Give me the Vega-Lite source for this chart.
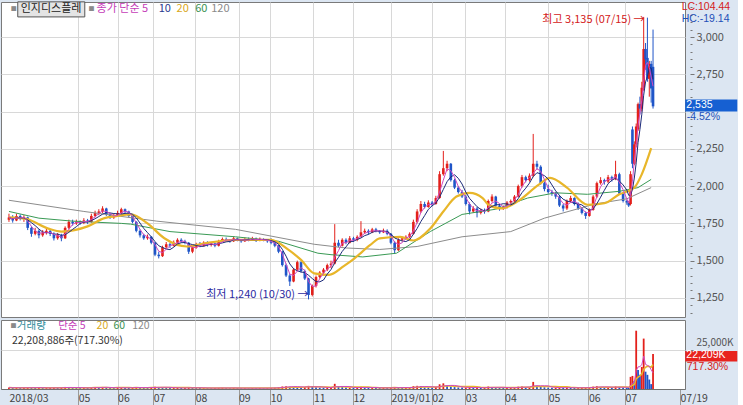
{
"$schema":"https://vega.github.io/schema/vega-lite/v6.json",
"padding":0,
"background":"#dce6f2",
"spacing":1,
"config":{
 "view":{"stroke":"#7a7a7a","fill":"white"},
 "font":"Noto Sans CJK KR",
 "axis":{"labelFont":"Noto Sans CJK KR","labelFontSize":11,"labelColor":"#555555","gridColor":"#d8d8d8","tickColor":"#777777","domain":false,"title":null},
 "text":{"font":"Noto Sans CJK KR","fontSize":11},
 "concat":{"spacing":1}
},
"resolve":{"scale":{"color":"independent"}},
"datasets":{
"candles":[
{"t":0,"o":1775,"h":1815,"l":1760,"c":1790,"v":900},
{"t":2,"o":1790,"h":1805,"l":1755,"c":1770,"v":700},
{"t":4,"o":1770,"h":1815,"l":1765,"c":1800,"v":800},
{"t":6,"o":1800,"h":1810,"l":1770,"c":1785,"v":600},
{"t":8,"o":1785,"h":1805,"l":1760,"c":1790,"v":700},
{"t":10,"o":1790,"h":1795,"l":1705,"c":1720,"v":1100},
{"t":12,"o":1720,"h":1730,"l":1660,"c":1680,"v":1000},
{"t":14,"o":1680,"h":1720,"l":1670,"c":1700,"v":700},
{"t":16,"o":1700,"h":1710,"l":1650,"c":1670,"v":800},
{"t":18,"o":1670,"h":1705,"l":1660,"c":1690,"v":600},
{"t":20,"o":1690,"h":1720,"l":1675,"c":1700,"v":600},
{"t":22,"o":1700,"h":1710,"l":1665,"c":1680,"v":700},
{"t":24,"o":1680,"h":1690,"l":1635,"c":1650,"v":900},
{"t":26,"o":1650,"h":1685,"l":1640,"c":1670,"v":700},
{"t":28,"o":1670,"h":1680,"l":1630,"c":1650,"v":800},
{"t":30,"o":1650,"h":1730,"l":1645,"c":1720,"v":1300},
{"t":32,"o":1720,"h":1775,"l":1710,"c":1760,"v":1200},
{"t":34,"o":1760,"h":1775,"l":1735,"c":1750,"v":800},
{"t":36,"o":1750,"h":1775,"l":1740,"c":1760,"v":700},
{"t":38,"o":1760,"h":1770,"l":1740,"c":1755,"v":600},
{"t":40,"o":1755,"h":1785,"l":1745,"c":1770,"v":700},
{"t":42,"o":1770,"h":1780,"l":1745,"c":1760,"v":600},
{"t":44,"o":1760,"h":1815,"l":1755,"c":1800,"v":1100},
{"t":46,"o":1800,"h":1835,"l":1790,"c":1820,"v":1200},
{"t":48,"o":1820,"h":1845,"l":1805,"c":1830,"v":900},
{"t":50,"o":1830,"h":1865,"l":1820,"c":1850,"v":1300},
{"t":52,"o":1850,"h":1855,"l":1800,"c":1810,"v":900},
{"t":54,"o":1810,"h":1820,"l":1780,"c":1790,"v":700},
{"t":56,"o":1790,"h":1815,"l":1780,"c":1800,"v":600},
{"t":58,"o":1800,"h":1835,"l":1795,"c":1820,"v":800},
{"t":60,"o":1820,"h":1855,"l":1810,"c":1845,"v":1000},
{"t":62,"o":1845,"h":1850,"l":1815,"c":1830,"v":800},
{"t":64,"o":1830,"h":1835,"l":1790,"c":1800,"v":700},
{"t":66,"o":1800,"h":1805,"l":1750,"c":1760,"v":900},
{"t":68,"o":1760,"h":1765,"l":1690,"c":1700,"v":1200},
{"t":70,"o":1700,"h":1710,"l":1655,"c":1670,"v":1000},
{"t":72,"o":1670,"h":1680,"l":1640,"c":1650,"v":800},
{"t":74,"o":1650,"h":1675,"l":1640,"c":1660,"v":700},
{"t":76,"o":1660,"h":1665,"l":1610,"c":1620,"v":900},
{"t":78,"o":1620,"h":1625,"l":1530,"c":1540,"v":1500},
{"t":80,"o":1540,"h":1560,"l":1515,"c":1530,"v":1300},
{"t":82,"o":1530,"h":1600,"l":1525,"c":1590,"v":1100},
{"t":84,"o":1590,"h":1625,"l":1580,"c":1610,"v":800},
{"t":86,"o":1610,"h":1620,"l":1585,"c":1600,"v":600},
{"t":88,"o":1600,"h":1635,"l":1595,"c":1620,"v":700},
{"t":90,"o":1620,"h":1650,"l":1610,"c":1640,"v":800},
{"t":92,"o":1640,"h":1650,"l":1620,"c":1630,"v":600},
{"t":94,"o":1630,"h":1640,"l":1610,"c":1620,"v":600},
{"t":96,"o":1620,"h":1625,"l":1545,"c":1560,"v":1000},
{"t":98,"o":1560,"h":1600,"l":1550,"c":1590,"v":800},
{"t":100,"o":1590,"h":1620,"l":1580,"c":1610,"v":700},
{"t":102,"o":1610,"h":1625,"l":1590,"c":1600,"v":600},
{"t":104,"o":1600,"h":1630,"l":1595,"c":1620,"v":700},
{"t":106,"o":1620,"h":1630,"l":1595,"c":1605,"v":600},
{"t":108,"o":1605,"h":1625,"l":1595,"c":1615,"v":500},
{"t":110,"o":1615,"h":1620,"l":1590,"c":1600,"v":600},
{"t":112,"o":1600,"h":1640,"l":1595,"c":1630,"v":700},
{"t":114,"o":1630,"h":1655,"l":1625,"c":1645,"v":800},
{"t":116,"o":1645,"h":1655,"l":1630,"c":1640,"v":600},
{"t":118,"o":1640,"h":1645,"l":1620,"c":1630,"v":500},
{"t":120,"o":1630,"h":1660,"l":1625,"c":1650,"v":700},
{"t":122,"o":1650,"h":1655,"l":1630,"c":1640,"v":600},
{"t":124,"o":1640,"h":1645,"l":1620,"c":1630,"v":500},
{"t":126,"o":1630,"h":1655,"l":1625,"c":1645,"v":600},
{"t":128,"o":1645,"h":1655,"l":1630,"c":1640,"v":500},
{"t":130,"o":1640,"h":1660,"l":1635,"c":1650,"v":600},
{"t":132,"o":1650,"h":1655,"l":1625,"c":1635,"v":500},
{"t":134,"o":1635,"h":1655,"l":1630,"c":1645,"v":600},
{"t":136,"o":1645,"h":1650,"l":1630,"c":1640,"v":500},
{"t":138,"o":1640,"h":1645,"l":1620,"c":1630,"v":600},
{"t":140,"o":1630,"h":1650,"l":1610,"c":1620,"v":700},
{"t":142,"o":1620,"h":1625,"l":1590,"c":1600,"v":800},
{"t":144,"o":1600,"h":1605,"l":1550,"c":1560,"v":1100},
{"t":146,"o":1560,"h":1565,"l":1460,"c":1470,"v":1600},
{"t":148,"o":1470,"h":1480,"l":1390,"c":1400,"v":1800},
{"t":150,"o":1400,"h":1410,"l":1330,"c":1360,"v":1500},
{"t":152,"o":1360,"h":1450,"l":1355,"c":1440,"v":1400},
{"t":154,"o":1440,"h":1500,"l":1430,"c":1490,"v":1200},
{"t":156,"o":1490,"h":1495,"l":1420,"c":1430,"v":1000},
{"t":158,"o":1430,"h":1440,"l":1370,"c":1380,"v":1300},
{"t":160,"o":1380,"h":1385,"l":1240,"c":1270,"v":2000},
{"t":162,"o":1270,"h":1340,"l":1260,"c":1330,"v":1400},
{"t":164,"o":1330,"h":1400,"l":1320,"c":1390,"v":1100},
{"t":166,"o":1390,"h":1430,"l":1380,"c":1420,"v":900},
{"t":168,"o":1420,"h":1450,"l":1400,"c":1440,"v":800},
{"t":170,"o":1440,"h":1480,"l":1430,"c":1470,"v":900},
{"t":172,"o":1470,"h":1500,"l":1450,"c":1480,"v":1000},
{"t":174,"o":1480,"h":1745,"l":1475,"c":1620,"v":3300},
{"t":176,"o":1620,"h":1640,"l":1590,"c":1600,"v":1600},
{"t":178,"o":1600,"h":1650,"l":1595,"c":1640,"v":1200},
{"t":180,"o":1640,"h":1650,"l":1610,"c":1620,"v":900},
{"t":182,"o":1620,"h":1665,"l":1615,"c":1650,"v":900},
{"t":184,"o":1650,"h":1660,"l":1625,"c":1640,"v":700},
{"t":186,"o":1640,"h":1670,"l":1630,"c":1660,"v":800},
{"t":188,"o":1660,"h":1765,"l":1655,"c":1690,"v":1500},
{"t":190,"o":1690,"h":1715,"l":1680,"c":1700,"v":1000},
{"t":192,"o":1700,"h":1710,"l":1675,"c":1690,"v":800},
{"t":194,"o":1690,"h":1720,"l":1685,"c":1710,"v":800},
{"t":196,"o":1710,"h":1720,"l":1690,"c":1700,"v":700},
{"t":198,"o":1700,"h":1705,"l":1680,"c":1690,"v":600},
{"t":200,"o":1690,"h":1715,"l":1685,"c":1700,"v":700},
{"t":202,"o":1700,"h":1710,"l":1670,"c":1680,"v":600},
{"t":204,"o":1680,"h":1685,"l":1610,"c":1620,"v":900},
{"t":206,"o":1620,"h":1630,"l":1545,"c":1570,"v":1200},
{"t":208,"o":1570,"h":1650,"l":1565,"c":1640,"v":1000},
{"t":210,"o":1640,"h":1660,"l":1630,"c":1650,"v":700},
{"t":212,"o":1650,"h":1670,"l":1640,"c":1660,"v":700},
{"t":214,"o":1660,"h":1690,"l":1650,"c":1680,"v":900},
{"t":216,"o":1680,"h":1775,"l":1675,"c":1760,"v":1800},
{"t":218,"o":1760,"h":1845,"l":1750,"c":1830,"v":2000},
{"t":220,"o":1830,"h":1900,"l":1820,"c":1880,"v":1900},
{"t":222,"o":1880,"h":1895,"l":1850,"c":1860,"v":1100},
{"t":224,"o":1860,"h":1905,"l":1855,"c":1890,"v":1000},
{"t":226,"o":1890,"h":1900,"l":1865,"c":1880,"v":900},
{"t":228,"o":1880,"h":1935,"l":1875,"c":1920,"v":1300},
{"t":230,"o":1920,"h":2100,"l":1915,"c":2080,"v":3000},
{"t":232,"o":2080,"h":2236,"l":2070,"c":2120,"v":3600},
{"t":234,"o":2120,"h":2170,"l":2100,"c":2150,"v":2000},
{"t":236,"o":2150,"h":2155,"l":2030,"c":2040,"v":1500},
{"t":238,"o":2040,"h":2050,"l":1980,"c":1990,"v":1200},
{"t":240,"o":1990,"h":2000,"l":1950,"c":1960,"v":1000},
{"t":242,"o":1960,"h":1975,"l":1920,"c":1930,"v":900},
{"t":244,"o":1930,"h":1940,"l":1870,"c":1880,"v":900},
{"t":246,"o":1880,"h":1890,"l":1810,"c":1830,"v":1100},
{"t":248,"o":1830,"h":1865,"l":1820,"c":1850,"v":800},
{"t":250,"o":1850,"h":1860,"l":1790,"c":1820,"v":900},
{"t":252,"o":1820,"h":1850,"l":1810,"c":1840,"v":700},
{"t":254,"o":1840,"h":1850,"l":1815,"c":1830,"v":700},
{"t":256,"o":1830,"h":1910,"l":1825,"c":1900,"v":1600},
{"t":258,"o":1900,"h":1945,"l":1890,"c":1930,"v":1300},
{"t":260,"o":1930,"h":1935,"l":1860,"c":1870,"v":1000},
{"t":262,"o":1870,"h":1880,"l":1835,"c":1850,"v":800},
{"t":264,"o":1850,"h":1870,"l":1840,"c":1860,"v":700},
{"t":266,"o":1860,"h":1900,"l":1850,"c":1890,"v":800},
{"t":268,"o":1890,"h":1910,"l":1880,"c":1900,"v":800},
{"t":270,"o":1900,"h":1940,"l":1890,"c":1930,"v":1000},
{"t":272,"o":1930,"h":2010,"l":1925,"c":2000,"v":1500},
{"t":274,"o":2000,"h":2075,"l":1990,"c":2060,"v":1600},
{"t":276,"o":2060,"h":2070,"l":2025,"c":2040,"v":1100},
{"t":278,"o":2040,"h":2085,"l":2030,"c":2070,"v":1200},
{"t":280,"o":2070,"h":2350,"l":2060,"c":2150,"v":4500},
{"t":282,"o":2150,"h":2170,"l":2110,"c":2130,"v":2000},
{"t":284,"o":2130,"h":2140,"l":2010,"c":2020,"v":1500},
{"t":286,"o":2020,"h":2030,"l":1965,"c":1980,"v":1100},
{"t":288,"o":1980,"h":2010,"l":1950,"c":1960,"v":900},
{"t":290,"o":1960,"h":1975,"l":1935,"c":1950,"v":800},
{"t":292,"o":1950,"h":1960,"l":1915,"c":1930,"v":800},
{"t":294,"o":1930,"h":1940,"l":1860,"c":1870,"v":900},
{"t":296,"o":1870,"h":1880,"l":1830,"c":1850,"v":800},
{"t":298,"o":1850,"h":1910,"l":1840,"c":1900,"v":900},
{"t":300,"o":1900,"h":1935,"l":1890,"c":1920,"v":800},
{"t":302,"o":1920,"h":1925,"l":1870,"c":1880,"v":700},
{"t":304,"o":1880,"h":1890,"l":1840,"c":1850,"v":700},
{"t":306,"o":1850,"h":1860,"l":1810,"c":1820,"v":800},
{"t":308,"o":1820,"h":1830,"l":1780,"c":1800,"v":900},
{"t":310,"o":1800,"h":1850,"l":1795,"c":1840,"v":1000},
{"t":312,"o":1840,"h":1940,"l":1835,"c":1930,"v":1500},
{"t":314,"o":1930,"h":2030,"l":1920,"c":2020,"v":1800},
{"t":316,"o":2020,"h":2060,"l":2010,"c":2040,"v":1300},
{"t":318,"o":2040,"h":2050,"l":2010,"c":2030,"v":1000},
{"t":320,"o":2030,"h":2075,"l":2020,"c":2060,"v":1100},
{"t":322,"o":2060,"h":2070,"l":2030,"c":2050,"v":900},
{"t":324,"o":2050,"h":2170,"l":2040,"c":2080,"v":1600},
{"t":326,"o":2080,"h":2090,"l":1940,"c":1950,"v":1300},
{"t":328,"o":1950,"h":1960,"l":1890,"c":1900,"v":900},
{"t":330,"o":1900,"h":1910,"l":1875,"c":1890,"v":800},
{"t":331,"o":1890,"h":1900,"l":1860,"c":1870,"v":700},
{"t":332,"o":1880,"h":2100,"l":1870,"c":2080,"v":7700},
{"t":333,"o":2380,"h":2400,"l":2120,"c":2150,"v":8300},
{"t":334,"o":2150,"h":2300,"l":2140,"c":2280,"v":5000},
{"t":335,"o":2280,"h":2420,"l":2260,"c":2400,"v":37000},
{"t":336,"o":2380,"h":2560,"l":2370,"c":2550,"v":12000},
{"t":337,"o":2550,"h":2600,"l":2480,"c":2520,"v":9000},
{"t":338,"o":2520,"h":2700,"l":2500,"c":2660,"v":14000},
{"t":339,"o":2660,"h":3135,"l":2640,"c":2920,"v":32000},
{"t":340,"o":2920,"h":2960,"l":2780,"c":2850,"v":11000},
{"t":341,"o":2860,"h":3130,"l":2700,"c":2720,"v":9000},
{"t":342,"o":2720,"h":2840,"l":2600,"c":2820,"v":6000},
{"t":343,"o":2820,"h":2840,"l":2560,"c":2655,"v":3096},
{"t":344,"o":2800,"h":3050,"l":2520,"c":2535,"v":22209}
],
"mas":[
{"s":"ma20","t":0,"v":1790},{"s":"ma20","t":9,"v":1780},{"s":"ma20","t":21,"v":1715},{"s":"ma20","t":28,"v":1695},{"s":"ma20","t":35,"v":1705},{"s":"ma20","t":42,"v":1730},{"s":"ma20","t":51,"v":1785},{"s":"ma20","t":58,"v":1800},{"s":"ma20","t":65,"v":1810},{"s":"ma20","t":74,"v":1750},{"s":"ma20","t":83,"v":1650},{"s":"ma20","t":95,"v":1595},{"s":"ma20","t":104,"v":1615},{"s":"ma20","t":121,"v":1640},{"s":"ma20","t":140,"v":1640},{"s":"ma20","t":149,"v":1575},{"s":"ma20","t":156,"v":1505},{"s":"ma20","t":163,"v":1415},{"s":"ma20","t":171,"v":1405},{"s":"ma20","t":179,"v":1465},{"s":"ma20","t":183,"v":1500},{"s":"ma20","t":193,"v":1605},{"s":"ma20","t":198,"v":1650},{"s":"ma20","t":209,"v":1660},{"s":"ma20","t":216,"v":1635},{"s":"ma20","t":225,"v":1715},{"s":"ma20","t":232,"v":1830},{"s":"ma20","t":239,"v":1930},{"s":"ma20","t":246,"v":1955},{"s":"ma20","t":253,"v":1920},{"s":"ma20","t":256,"v":1875},{"s":"ma20","t":263,"v":1850},{"s":"ma20","t":272,"v":1900},{"s":"ma20","t":283,"v":2010},{"s":"ma20","t":289,"v":2055},{"s":"ma20","t":298,"v":1990},{"s":"ma20","t":309,"v":1875},{"s":"ma20","t":318,"v":1885},{"s":"ma20","t":326,"v":1945},{"s":"ma20","t":334,"v":1990},{"s":"ma20","t":338,"v":2080},{"s":"ma20","t":343,"v":2255},
{"s":"ma60","t":0,"v":1830},{"s":"ma60","t":16,"v":1785},{"s":"ma60","t":34,"v":1765},{"s":"ma60","t":60,"v":1750},{"s":"ma60","t":65,"v":1745},{"s":"ma60","t":86,"v":1695},{"s":"ma60","t":121,"v":1660},{"s":"ma60","t":144,"v":1630},{"s":"ma60","t":165,"v":1550},{"s":"ma60","t":172,"v":1540},{"s":"ma60","t":189,"v":1525},{"s":"ma60","t":207,"v":1550},{"s":"ma60","t":225,"v":1695},{"s":"ma60","t":242,"v":1810},{"s":"ma60","t":260,"v":1845},{"s":"ma60","t":277,"v":1920},{"s":"ma60","t":292,"v":1955},{"s":"ma60","t":309,"v":1945},{"s":"ma60","t":326,"v":1965},{"s":"ma60","t":336,"v":1990},{"s":"ma60","t":343,"v":2045},
{"s":"ma120","t":0,"v":1905},{"s":"ma120","t":40,"v":1830},{"s":"ma120","t":79,"v":1765},{"s":"ma120","t":121,"v":1710},{"s":"ma120","t":163,"v":1610},{"s":"ma120","t":180,"v":1585},{"s":"ma120","t":198,"v":1575},{"s":"ma120","t":218,"v":1595},{"s":"ma120","t":242,"v":1660},{"s":"ma120","t":268,"v":1695},{"s":"ma120","t":286,"v":1785},{"s":"ma120","t":313,"v":1880},{"s":"ma120","t":330,"v":1915},{"s":"ma120","t":343,"v":1990}
],
"ticks":[
{"p":1150},{"p":1200},{"p":1250},{"p":1300},{"p":1350},{"p":1400},{"p":1450},{"p":1500},{"p":1550},{"p":1600},{"p":1650},{"p":1700},{"p":1750},{"p":1800},{"p":1850},{"p":1900},{"p":1950},{"p":2000},{"p":2050},{"p":2100},{"p":2150},{"p":2200},{"p":2250},{"p":2300},{"p":2350},{"p":2400},{"p":2450},{"p":2500},{"p":2550},{"p":2600},{"p":2650},{"p":2700},{"p":2750},{"p":2800},{"p":2850},{"p":2900},{"p":2950},{"p":3000},{"p":3050},{"p":3100},{"p":3150},{"p":3200}
],
"icons":[
{"t":1.0,"p":3189},{"t":42.5,"p":3189}
],
"notes":[
{"k":"title","txt":"인지디스플레","t":6.3,"p":3186},
{"k":"ma5","txt":"종가 단순 5","t":46.8,"p":3186},
{"k":"ma10","txt":"10","t":80,"p":3186},
{"k":"ma20","txt":"20","t":89.5,"p":3186},
{"k":"ma60","txt":"60","t":99.5,"p":3186},
{"k":"ma120","txt":"120","t":108,"p":3186}
],
"rnotes":[
{"k":"lc","txt":"LC:104.44","t":359.3,"p":3203},
{"k":"hc","txt":"HC:-19.14","t":359.3,"p":3124},
{"k":"boxtext","txt":"2,535","t":361.8,"p":2544},
{"k":"pct","txt":"-4.52%","t":362,"p":2462}
],
"marks":[
{"k":"hi","txt":"최고 3,135 (07/15) →","t":339.5,"p":3115},
{"k":"lo","txt":"최저 1,240 (10/30) →","t":160,"p":1270}
],
"boxes":[
{"k":"titlebox","t":4.7,"t2":40.5,"p":3236,"p2":3135},
{"k":"pricebox","t":361.2,"t2":389,"p":2581,"p2":2500}
],
"vicons":[
{"t":0.8,"p":40000}
],
"vnotes":[
{"k":"vol","txt":"거래량","t":4.2,"p":40000},
{"k":"ma5","txt":"단순 5","t":26.3,"p":40000},
{"k":"ma20","txt":"20","t":46.8,"p":40000},
{"k":"ma60","txt":"60","t":55.8,"p":40000},
{"k":"ma120","txt":"120","t":65.8,"p":40000},
{"k":"dark","txt":"22,208,886주(717.30%)","t":1.6,"p":30300}
],
"vrnotes":[
{"k":"boxtext","txt":"22,209K","t":361.8,"p":21270},
{"k":"red","txt":"717.30%","t":362,"p":13650}
],
"vboxes":[
{"k":"volbox","t":361.2,"t2":389,"p":24200,"p2":17500}
]
},
"vconcat":[
{
 "width":684,"height":315,
 "resolve":{"axis":{"y":"independent"}},
 "layer":[
  {"data":{"name":"candles"},"mark":{"type":"rule","strokeWidth":1},
   "encoding":{
    "x":{"field":"t","type":"quantitative","scale":{"domain":[-1.58,358.4],"nice":false,"zero":false},
         "axis":{"values":[37,58,77,99.5,122.6,139.5,162.6,183.7,204,225.8,243.7,264.7,288,309.5,329],"labels":false,"ticks":false,"domain":false,"grid":true}},
    "y":{"field":"l","type":"quantitative","scale":{"domain":[1122,3235],"nice":false,"zero":false},
         "axis":{"orient":"right","values":[1250,1500,1750,2000,2250,2750,3000],"format":",.0f","offset":5,"tickSize":4,"labelPadding":2,"grid":true}},
    "y2":{"field":"h"},
    "color":{"condition":{"test":"datum.c >= datum.o","value":"#e3201b"},"value":"#1f55c8"}}},
  {"data":{"name":"ticks"},"mark":{"type":"point","opacity":0},
   "encoding":{
    "y":{"field":"p","type":"quantitative","axis":{"orient":"right","values":[1150,1200,1300,1350,1400,1450,1550,1600,1650,1700,1800,1850,1900,1950,2050,2100,2150,2200,2300,2350,2400,2450,2500,2550,2600,2650,2700,2800,2850,2900,2950,3050,3100,3150,3200],"labels":false,"offset":5,"tickSize":2,"domain":false,
      "grid":true,"gridOpacity":{"condition":{"test":"datum.value == 2500","value":1},"value":0}}}}},
  {"data":{"name":"candles"},"mark":{"type":"bar","size":2.6},
   "encoding":{
    "x":{"field":"t","type":"quantitative"},
    "y":{"field":"o","type":"quantitative","axis":null},
    "y2":{"field":"c"},
    "color":{"condition":{"test":"datum.c >= datum.o","value":"#e3201b"},"value":"#1f55c8"}}},
  {"data":{"name":"mas"},"transform":[{"filter":"datum.s == 'ma120'"}],"mark":{"type":"line","strokeWidth":1,"color":"#8c8c8c"},
   "encoding":{"x":{"field":"t","type":"quantitative"},"y":{"field":"v","type":"quantitative","axis":null}}},
  {"data":{"name":"mas"},"transform":[{"filter":"datum.s == 'ma60'"}],"mark":{"type":"line","strokeWidth":1,"color":"#3a9a55"},
   "encoding":{"x":{"field":"t","type":"quantitative"},"y":{"field":"v","type":"quantitative","axis":null}}},
  {"data":{"name":"mas"},"transform":[{"filter":"datum.s == 'ma20'"}],"mark":{"type":"line","strokeWidth":2.2,"color":"#e8b62a","interpolate":"monotone"},
   "encoding":{"x":{"field":"t","type":"quantitative"},"y":{"field":"v","type":"quantitative","axis":null}}},
  {"data":{"name":"candles"},"transform":[{"window":[{"op":"mean","field":"c","as":"m10"}],"frame":[-4,0],"sort":[{"field":"t"}]}],
   "mark":{"type":"line","strokeWidth":1,"color":"#1c2a7a"},
   "encoding":{"x":{"field":"t","type":"quantitative"},"y":{"field":"m10","type":"quantitative","axis":null}}},
  {"data":{"name":"candles"},"transform":[{"window":[{"op":"mean","field":"c","as":"m5"}],"frame":[-2,0],"sort":[{"field":"t"}]}],
   "mark":{"type":"line","strokeWidth":1,"color":"#d048c0"},
   "encoding":{"x":{"field":"t","type":"quantitative"},"y":{"field":"m5","type":"quantitative","axis":null}}},
  {"data":{"name":"boxes"},"transform":[{"filter":"datum.k == 'titlebox'"}],"mark":{"type":"rect","fill":"#e4e4e4","stroke":"#555555","strokeWidth":1},
   "encoding":{"x":{"field":"t","type":"quantitative"},"x2":{"field":"t2"},"y":{"field":"p","type":"quantitative","axis":null},"y2":{"field":"p2"}}},
  {"data":{"name":"boxes"},"transform":[{"filter":"datum.k == 'pricebox'"}],"mark":{"type":"rect","fill":"#1660d2"},
   "encoding":{"x":{"field":"t","type":"quantitative"},"x2":{"field":"t2"},"y":{"field":"p","type":"quantitative","axis":null},"y2":{"field":"p2"}}},
  {"data":{"name":"icons"},"mark":{"type":"text","text":"■","fontSize":6,"align":"left","baseline":"middle","color":"#8a8a8a"},
   "encoding":{"x":{"field":"t","type":"quantitative"},"y":{"field":"p","type":"quantitative","axis":null}}},
  {"data":{"name":"notes"},"mark":{"type":"text","align":"left","baseline":"middle","fontSize":11},
   "encoding":{"x":{"field":"t","type":"quantitative"},"y":{"field":"p","type":"quantitative","axis":null},"text":{"field":"txt"},
    "color":{"field":"k","type":"nominal","legend":null,
     "scale":{"domain":["title","ma5","ma10","ma20","ma60","ma120","hi","lo","lc","hc","boxtext","pct"],
              "range":["#222222","#c43cb8","#2a3a90","#d9a820","#3a9050","#8a8a8a","#d42020","#2b2b9f","#d42020","#2250b8","#ffffff","#2250b8"]}}}},
  {"data":{"name":"rnotes"},"mark":{"type":"text","align":"left","baseline":"middle","fontSize":10.5,"font":"Liberation Sans"},
   "encoding":{"x":{"field":"t","type":"quantitative"},"y":{"field":"p","type":"quantitative","axis":null},"text":{"field":"txt"},
    "color":{"field":"k","type":"nominal","legend":null}}},
  {"data":{"name":"marks"},"mark":{"type":"text","align":"right","baseline":"middle","fontSize":11},
   "encoding":{"x":{"field":"t","type":"quantitative"},"y":{"field":"p","type":"quantitative","axis":null},"text":{"field":"txt"},
    "color":{"field":"k","type":"nominal","legend":null}}}
 ]
},
{
 "width":684,"height":69,
 "layer":[
  {"data":{"name":"candles"},"transform":[{"window":[{"op":"lag","field":"v","as":"pv"}],"sort":[{"field":"t"}]}],
   "mark":{"type":"bar","size":1.8},
   "encoding":{
    "x":{"field":"t","type":"quantitative","scale":{"domain":[-1.58,358.4],"nice":false,"zero":false},
         "axis":{"orient":"bottom","values":[0,37,58,77,99.5,122.6,139.5,162.6,183.7,204,225.8,243.7,264.7,288,309.5,329,358.4],
                 "labelExpr":"['2018/03','05','06','07','08','09','10','11','12','2019/01','02','03','04','05','06','07','07/19'][indexof([0,37,58,77,99.5,122.6,139.5,162.6,183.7,204,225.8,243.7,264.7,288,309.5,329,358.4], datum.value)]",
                 "labelAlign":"left","labelBaseline":"top","labelDx":3,"labelPadding":-16,"tickSize":20,"tickColor":"#9a9a9a","labelFontSize":10.5,"labelColor":"#444444",
                 "labelOverlap":false,"labelBound":false,"labelFlush":false,
                 "domain":true,"domainColor":"#707070","grid":true,
                 "gridOpacity":{"condition":{"test":"datum.value == 0 || datum.value == 358.4","value":0},"value":1},
                 "tickOpacity":{"condition":{"test":"datum.value == 0","value":0},"value":1}}},
    "y":{"field":"v","type":"quantitative","scale":{"domain":[0,43800],"nice":false},
         "axis":{"orient":"right","values":[25000],"labelExpr":"format(datum.value, ',') + 'K'","offset":5,"tickSize":4,"labelPadding":2,"labelFontSize":10,"labelBaseline":"bottom","labelOffset":-2,"grid":true}},
    "color":{"condition":{"test":"datum.pv == null || datum.v >= datum.pv","value":"#e3201b"},"value":"#1f55c8"}}},
  {"data":{"name":"candles"},"transform":[{"window":[{"op":"mean","field":"v","as":"m20"}],"frame":[-9,0],"sort":[{"field":"t"}]}],
   "mark":{"type":"line","strokeWidth":1.5,"color":"#e8b62a"},
   "encoding":{"x":{"field":"t","type":"quantitative"},"y":{"field":"m20","type":"quantitative"}}},
  {"data":{"name":"candles"},"transform":[{"window":[{"op":"mean","field":"v","as":"m5"}],"frame":[-4,0],"sort":[{"field":"t"}]}],
   "mark":{"type":"line","strokeWidth":1,"color":"#d048c0"},
   "encoding":{"x":{"field":"t","type":"quantitative"},"y":{"field":"m5","type":"quantitative"}}},
  {"data":{"name":"vboxes"},"mark":{"type":"rect","fill":"#e8231d"},
   "encoding":{"x":{"field":"t","type":"quantitative"},"x2":{"field":"t2"},"y":{"field":"p","type":"quantitative"},"y2":{"field":"p2"}}},
  {"data":{"name":"vicons"},"mark":{"type":"text","text":"■","fontSize":6,"align":"left","baseline":"middle","color":"#8a8a8a"},
   "encoding":{"x":{"field":"t","type":"quantitative"},"y":{"field":"p","type":"quantitative"}}},
  {"data":{"name":"vnotes"},"mark":{"type":"text","align":"left","baseline":"middle","fontSize":10.5},
   "encoding":{"x":{"field":"t","type":"quantitative"},"y":{"field":"p","type":"quantitative"},"text":{"field":"txt"},
    "color":{"field":"k","type":"nominal","legend":null,
     "scale":{"domain":["vol","ma5","ma20","ma60","ma120","dark","boxtext","red"],
              "range":["#2e8b9a","#c43cb8","#d9a820","#3a9050","#8a8a8a","#333333","#ffffff","#d42020"]}}}},
  {"data":{"name":"vrnotes"},"mark":{"type":"text","align":"left","baseline":"middle","fontSize":10.5,"font":"Liberation Sans"},
   "encoding":{"x":{"field":"t","type":"quantitative"},"y":{"field":"p","type":"quantitative"},"text":{"field":"txt"},
    "color":{"field":"k","type":"nominal","legend":null}}}
 ]
}
]
}
